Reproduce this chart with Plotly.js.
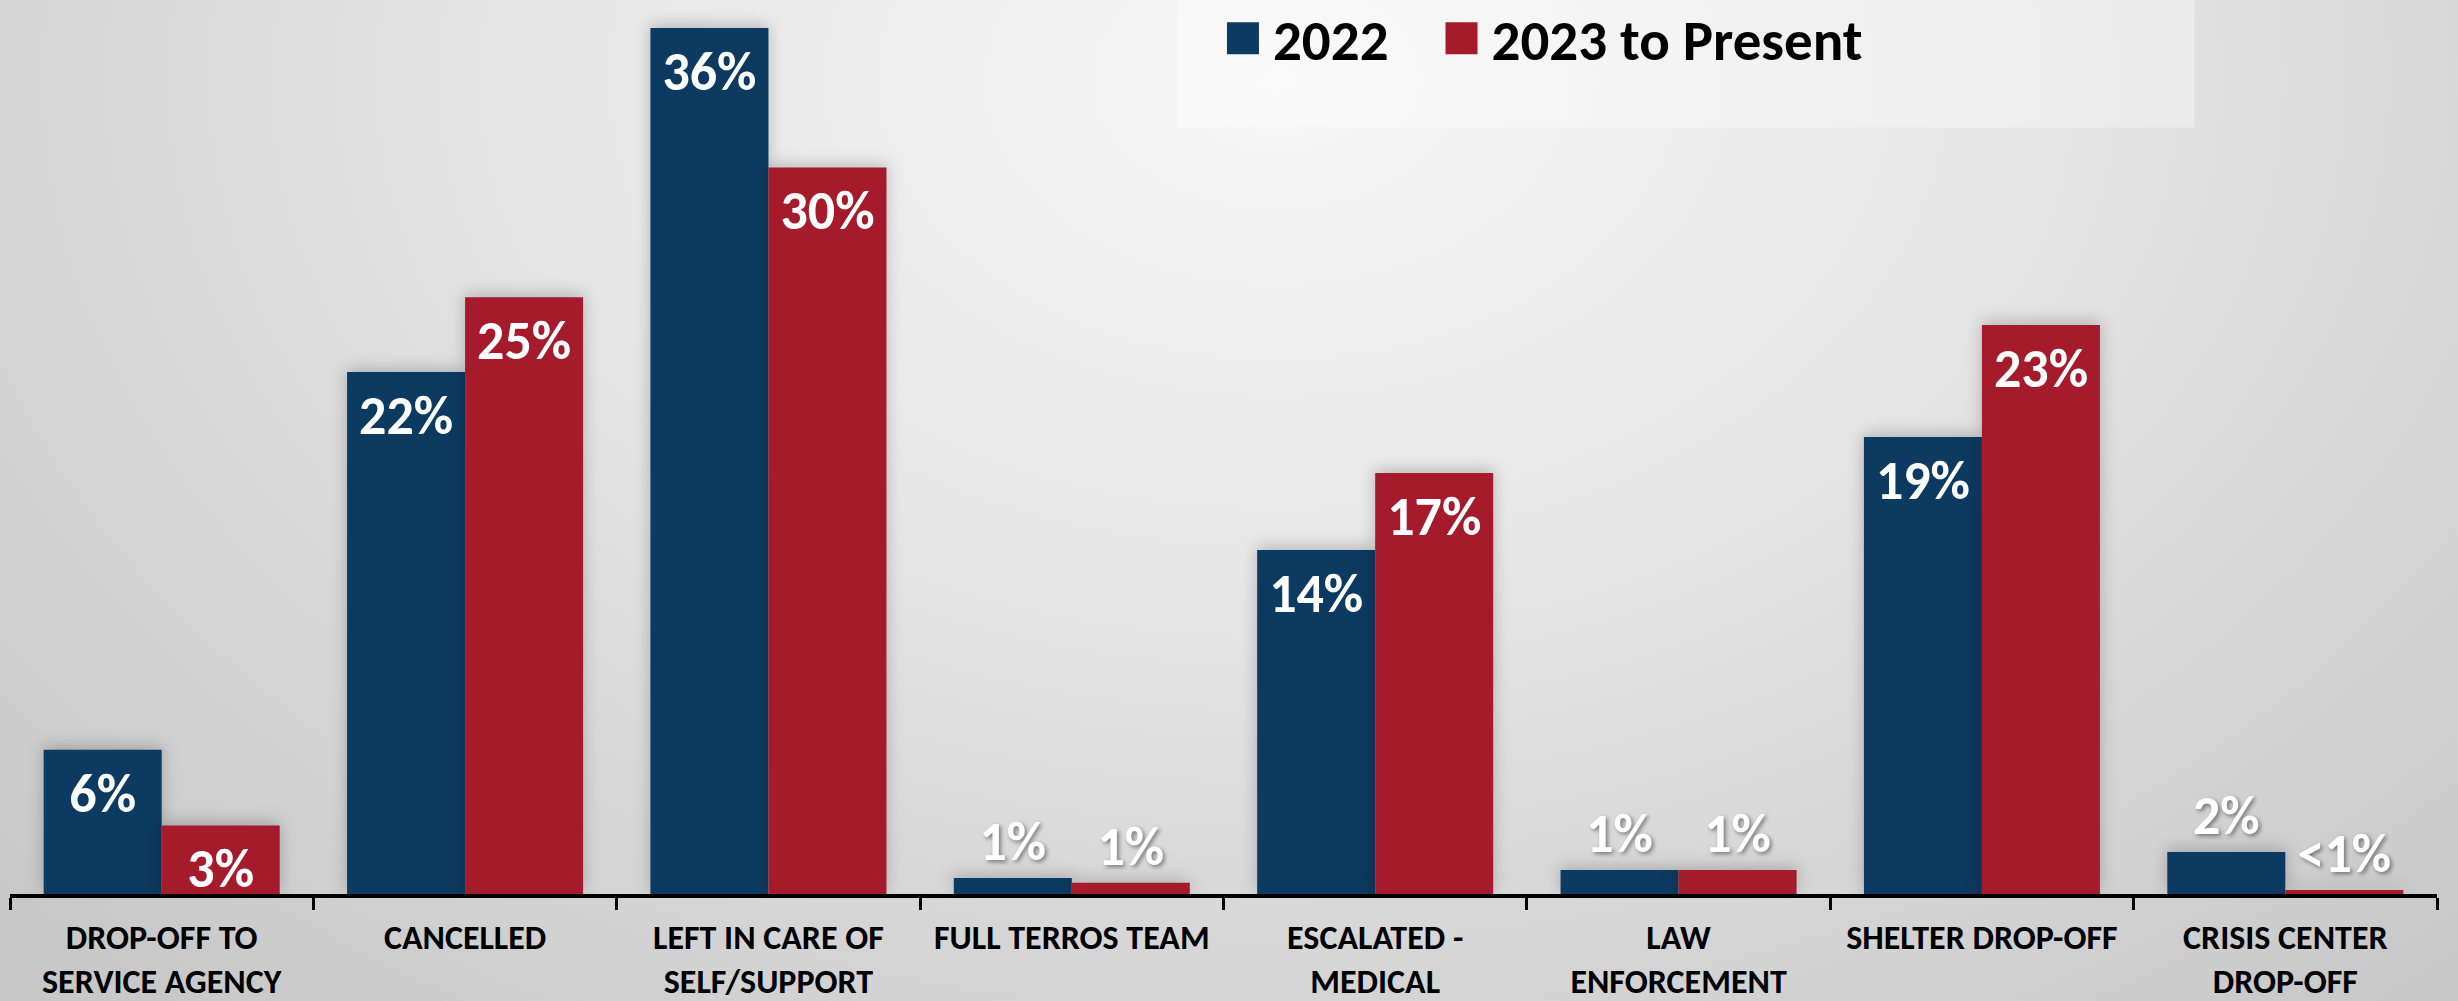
<!DOCTYPE html>
<html>
<head>
<meta charset="utf-8">
<script src="https://cdn.plot.ly/plotly-3.0.1.min.js"></script>
<style>
  html, body { margin: 0; padding: 0; }
  body {
    width: 2458px; height: 1001px; overflow: hidden;
    background: radial-gradient(ellipse 70% 120% at 52% 8%, #f7f7f7 0%, #e7e7e7 40%, #c8c8c8 100%);
  }
  #chart { width: 2458px; height: 1001px; }
  .barlayer .point path { filter: drop-shadow(0px -3px 8px rgba(0,0,0,0.22)); }
</style>
</head>
<body>
<div id="chart"></div>
<script>
const categories = ['Drop-off to Service Agency', 'Cancelled', 'Left in Care of Self/Support', 'Full TERROS Team',
  'Escalated - Medical', 'Law Enforcement', 'Shelter Drop-off', 'Crisis Center Drop-off'];
const tickLabels = ['DROP-OFF TO<br>SERVICE AGENCY', 'CANCELLED', 'LEFT IN CARE OF<br>SELF/SUPPORT', 'FULL TERROS TEAM',
  'ESCALATED -<br>MEDICAL', 'LAW<br>ENFORCEMENT', 'SHELTER DROP-OFF', 'CRISIS CENTER<br>DROP-OFF'];
const values2022 = [6.0, 21.7, 36.0, 0.67, 14.3, 1.0, 19.0, 1.75];
const values2023 = [2.85, 24.8, 30.2, 0.47, 17.5, 1.0, 23.65, 0.17];
const labels2022 = ['6%', '22%', '36%', '1%', '14%', '1%', '19%', '2%'];
const labels2023 = ['3%', '25%', '30%', '1%', '17%', '1%', '23%', '<1%'];
const labelPos2022 = ['inside', 'inside', 'inside', 'outside', 'inside', 'outside', 'inside', 'outside'];
const labelPos2023 = ['inside', 'inside', 'inside', 'outside', 'inside', 'outside', 'inside', 'outside'];
const seriesNames = ['2022', '2023 to Present'];
const colors = ['#0D3A60', '#A51B2B'];

const FONT = 'Carlito, Lato, sans-serif';
const insideFont = { family: FONT, size: 54, color: '#ffffff', weight: 700 };
const outsideFont = { family: FONT, size: 54, color: '#ffffff', weight: 700, shadow: '2px 2px 4px rgba(0,0,0,0.45)' };

function barTrace(name, vals, labels, pos, color) {
  return {
    type: 'bar', name: name, x: categories, y: vals,
    text: labels, textposition: pos, insidetextanchor: 'end',
    insidetextfont: insideFont, outsidetextfont: outsideFont, textfont: insideFont,
    constraintext: 'none', cliponaxis: false,
    marker: { color: color, line: { width: 0 } },
    hoverinfo: 'x+y'
  };
}

const data = [
  barTrace(seriesNames[0], values2022, labels2022, labelPos2022, colors[0]),
  barTrace(seriesNames[1], values2023, labels2023, labelPos2023, colors[1])
];

const layout = {
  width: 2458, height: 1001,
  margin: { l: 10, r: 21, t: 0, b: 107, pad: 0, autoexpand: false },
  paper_bgcolor: 'rgba(0,0,0,0)',
  plot_bgcolor: 'rgba(0,0,0,0)',
  barmode: 'group', bargap: 0.222, bargroupgap: 0,
  font: { family: FONT, color: '#000000' },
  showlegend: true,
  legend: {
    orientation: 'h', x: 0.480, xanchor: 'left', y: 1.006, yanchor: 'top',
    bgcolor: 'rgba(0,0,0,0)', borderwidth: 0,
    font: { family: FONT, size: 57, color: '#000000', weight: 700 },
    itemwidth: 88,
    traceorder: 'normal', itemclick: false, itemdoubleclick: false
  },
  xaxis: {
    type: 'category', tickvals: categories, ticktext: tickLabels,
    showline: true, linecolor: '#000000', linewidth: 4,
    ticks: 'outside', tickson: 'boundaries', ticklen: 12, tickwidth: 3, tickcolor: '#000000',
    tickfont: { family: FONT, size: 34, color: '#000000', weight: 700 },
    ticklabelstandoff: 10,
    showgrid: false, zeroline: false, fixedrange: true, automargin: false
  },
  yaxis: {
    range: [0, 37.16], visible: false, showgrid: false, zeroline: false, fixedrange: true
  },
  shapes: [{
    type: 'rect', xref: 'paper', yref: 'paper', x0: 0.481, x1: 0.9, y0: 0.857, y1: 1.0,
    fillcolor: 'rgba(255,255,255,0.35)', line: { width: 0 }, layer: 'below'
  }]
};

Plotly.newPlot('chart', data, layout, { displayModeBar: false, staticPlot: true }).then(() => {
  // enlarge legend swatches and place them just left of their labels
  document.querySelectorAll('.legend .traces').forEach(g => {
    const txt = g.querySelector('text.legendtext');
    const path = g.querySelector('.legendpoints path');
    if (!txt || !path) return;
    const S = 16;
    path.setAttribute('d', `M${S},${S}H${-S}V${-S}H${S}Z`);
    const tr = txt.getBoundingClientRect();
    const pr = path.getBoundingClientRect();
    const dx = (tr.left - 14) - pr.right;
    path.setAttribute('d', `M${S + dx},${S}H${-S + dx}V${-S}H${S + dx}Z`);
  });
  // nudge inside value labels slightly lower, as in the original
  document.querySelectorAll('.barlayer text.bartext-inside').forEach(t => {
    const tf = t.getAttribute('transform') || '';
    t.setAttribute('transform', 'translate(0,8) ' + tf);
  });
});
</script>
</body>
</html>
